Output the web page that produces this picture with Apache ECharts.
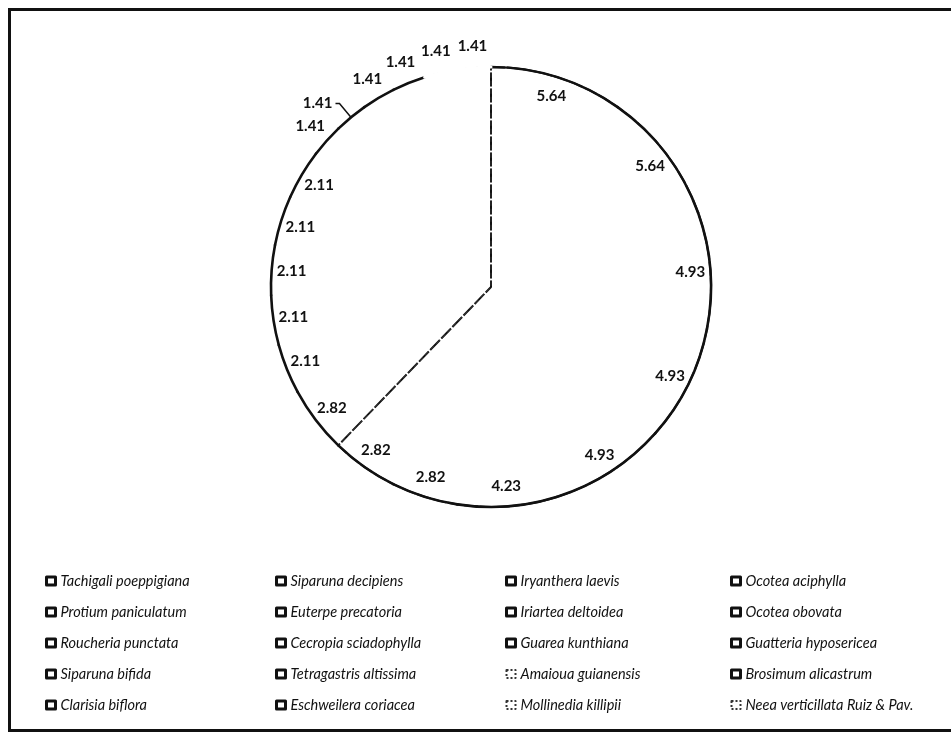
<!DOCTYPE html>
<html><head><meta charset="utf-8">
<script src="https://cdn.jsdelivr.net/npm/echarts@6/dist/echarts.min.js"></script>
<style>
html,body{margin:0;padding:0;background:#fff;overflow:hidden}
#chart{position:absolute;left:0;top:0;width:951px;height:733px}
#frame{position:absolute;left:8px;top:8px;width:960px;height:718px;border:3px solid #111;border-right:none;pointer-events:none}
</style></head>
<body><div id="chart"></div><div id="frame"></div>
<script>
// Data (importance values, %)
const species = [
  'Tachigali poeppigiana','Siparuna decipiens','Iryanthera laevis','Ocotea aciphylla',
  'Protium paniculatum','Euterpe precatoria','Iriartea deltoidea','Ocotea obovata',
  'Roucheria punctata','Cecropia sciadophylla','Guarea kunthiana','Guatteria hyposericea',
  'Siparuna bifida','Tetragastris altissima','Amaioua guianensis','Brosimum alicastrum',
  'Clarisia biflora','Eschweilera coriacea','Mollinedia killipii','Neea verticillata Ruiz & Pav.'
];
const values = [5.64,5.64,4.93,4.93,4.93,4.23,2.82,2.82,2.82,2.11,2.11,2.11,2.11,2.11,1.41,1.41,1.41,1.41,1.41,1.41];
const dottedLegend = ['Amaioua guianensis','Mollinedia killipii','Neea verticillata Ruiz & Pav.'];
const faintOutline = ['Mollinedia killipii','Neea verticillata Ruiz & Pav.'];
const leaderLabel = ['Brosimum alicastrum'];
const splitAfter = 8; // a visible radial line after this many slices

const chart = echarts.init(document.getElementById('chart'));
const center = [491, 287];
const R = 220;
const labelFont = {fontFamily:'Lato', fontWeight:'bold', fontSize:15, color:'#111'};
const fmt = p => Number(p.value).toFixed(2);

const sumFirst = values.slice(0, splitAfter).reduce((a,b)=>a+b,0);
const sumRest = values.slice(splitAfter).reduce((a,b)=>a+b,0);

const legendCols = [40, 270, 500, 725];
const legends = legendCols.map((x, c) => ({
  orient:'vertical', left:x, top:567, itemGap:13, selectedMode:false,
  icon:'rect', itemWidth:9, itemHeight:8,
  itemStyle:{color:'#fff', borderColor:'#111', borderWidth:3},
  textStyle:{fontFamily:'Lato', fontStyle:'italic', fontSize:14.5, color:'#111', lineHeight:18},
  data: species.filter((s,i)=> i % 4 === c).map(s => dottedLegend.includes(s)
    ? {name:s, itemStyle:{color:'#fff', borderColor:'#333', borderWidth:2, borderType:'dotted'}}
    : {name:s})
}));

const base = {type:'pie', center, clockwise:true, startAngle:90, silent:true,
  emphasis:{disabled:true}, animation:false, avoidLabelOverlap:false};

chart.setOption({
  animation:false,
  legend: legends,
  series:[
    Object.assign({}, base, {
      name:'main', radius:[0, R],
      itemStyle:{color:'#fff', borderWidth:0},
      label:{show:false}, labelLine:{show:false},
      data: values.map((v,i)=>({name:species[i], value:v}))
    }),
    Object.assign({}, base, {
      name:'radials', radius:[0, R],
      itemStyle:{color:'rgba(0,0,0,0)', borderColor:'#333', borderWidth:1.1, borderType:[5,3]},
      label:{show:false}, labelLine:{show:false},
      data:[{name:'a', value:sumFirst, itemStyle:{borderWidth:2, borderColor:'#111', borderType:[14,2]}},
            {name:'b', value:sumRest}]
    }),
    Object.assign({}, base, {
      name:'outline', radius:[R, R],
      itemStyle:{color:'rgba(0,0,0,0)', borderColor:'#111', borderWidth:2.6},
      label:{show:false}, labelLine:{show:false},
      data: values.map((v,i)=> faintOutline.includes(species[i])
        ? {name:species[i], value:v, itemStyle:{borderColor:'#fff', borderWidth:3}}
        : {name:species[i], value:v})
    }),
    Object.assign({}, base, {
      name:'labelsInside', radius:[R-46, R],
      itemStyle:{color:'rgba(0,0,0,0)'},
      label:Object.assign({show:true, position:'inside', formatter:fmt, rotate:0}, labelFont),
      labelLine:{show:false},
      data: values.map((v,i)=>({name:species[i], value:v, label:{show: v >= 2}}))
    }),
    Object.assign({}, base, {
      name:'labelsOutside', radius:[R, R+38],
      itemStyle:{color:'rgba(0,0,0,0)'},
      label:Object.assign({show:true, position:'inside', formatter:fmt, rotate:0}, labelFont),
      labelLine:{show:false},
      data: values.map((v,i)=>({name:species[i], value:v,
        label:{show: v < 2 && !leaderLabel.includes(species[i])}}))
    }),
    Object.assign({}, base, {
      name:'labelsLeader', radius:[0, R],
      itemStyle:{color:'rgba(0,0,0,0)'},
      label:Object.assign({show:true, position:'outside', formatter:fmt, distanceToLabelLine:3}, labelFont),
      labelLine:{show:true, length:18, length2:4, lineStyle:{color:'#111', width:1.5}},
      data: values.map((v,i)=>({name:species[i], value:v,
        label:{show: leaderLabel.includes(species[i])},
        labelLine:{show: leaderLabel.includes(species[i])}}))
    })
  ]
});
</script></body></html>
